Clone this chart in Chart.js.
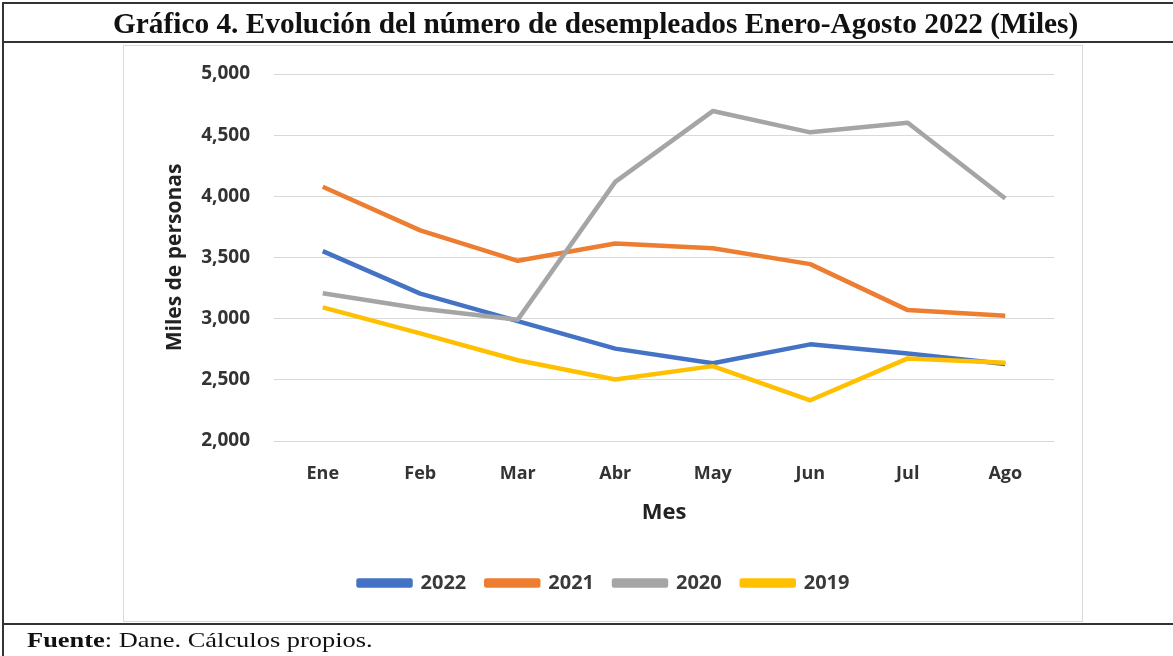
<!DOCTYPE html>
<html>
<head>
<meta charset="utf-8">
<script src="https://cdn.jsdelivr.net/npm/chart.js@4"></script>
<style>
  html, body { margin: 0; padding: 0; background: #fff; }
  body { width: 1173px; height: 656px; position: relative; overflow: hidden; }
  #chart { position: absolute; left: 0; top: 0; }
  .rule { position: absolute; background: #333; }
  #frame { position: absolute; left: 123px; top: 45px; width: 958px; height: 575px; border: 1px solid #d9d9d9; }
  .txt { position: absolute; white-space: nowrap; font-family: "Liberation Serif", "Times New Roman", serif; color: #111; transform-origin: 0 0; }
  #title { top: 9px; font-size: 29px; line-height: 29px; font-weight: bold; }
  #source { top: 630px; left: 27px; font-size: 21px; line-height: 21px; }
</style>
</head>
<body>
<div class="rule" style="left:2px; top:2px; width:1171px; height:2px;"></div>
<div class="rule" style="left:2px; top:41px; width:1171px; height:2px;"></div>
<div class="rule" style="left:2px; top:623px; width:1171px; height:2px;"></div>
<div class="rule" style="left:2px; top:2px; width:2px; height:654px;"></div>
<div id="frame"></div>
<canvas id="chart" width="1173" height="656"></canvas>
<div id="title" class="txt">Gráfico 4. Evolución del número de desempleados Enero-Agosto 2022 (Miles)</div>
<div id="source" class="txt"><b>Fuente</b>: Dane. Cálculos propios.</div>
<script>
// Meses (eje X)
const months = ["Ene", "Feb", "Mar", "Abr", "May", "Jun", "Jul", "Ago"];

// Desempleados, miles de personas
const values2022 = [3552, 3205, 2980, 2755, 2635, 2790, 2715, 2630];
const values2021 = [4078, 3722, 3473, 3615, 3575, 3446, 3070, 3023];
const values2020 = [3207, 3083, 2992, 4118, 4697, 4523, 4602, 3983];
const values2019 = [3092, 2880, 2660, 2503, 2612, 2333, 2675, 2640];

const seriesNames = ["2022", "2021", "2020", "2019"];
const seriesColors = ["#4472C4", "#ED7D31", "#A5A5A5", "#FFC000"];

// Eje Y
const yMin = 2000;
const yMax = 5000;
const yStep = 500;

// fit the HTML text to the widths seen in the picture
function fitText(id, targetWidth, centerX) {
  const el = document.getElementById(id);
  const w = el.offsetWidth;
  const s = targetWidth / w;
  el.style.transform = "scaleX(" + s + ")";
  if (centerX !== undefined) el.style.left = (centerX - targetWidth / 2) + "px";
}
fitText("title", 965, 595);
fitText("source", 346);

const allValues = [values2022, values2021, values2020, values2019];

const datasets = allValues.map((vals, i) => ({
  label: seriesNames[i],
  data: vals,
  borderColor: seriesColors[i],
  backgroundColor: seriesColors[i],
  borderWidth: 4.5,
  pointRadius: 0,
  tension: 0,
  borderJoinStyle: "round",
  order: 4 - i, // later series drawn on top, like the original
}));

const tickFont = { family: "'Open Sans', sans-serif", size: 18, weight: "bold" };

const ctx = document.getElementById("chart").getContext("2d");
new Chart(ctx, {
  type: "line",
  data: { labels: months, datasets: datasets },
  options: {
    responsive: false,
    animation: false,
    devicePixelRatio: 1,
    layout: { padding: { left: 154, right: 119, top: 74, bottom: 53 } },
    plugins: {
      tooltip: { enabled: false },
      legend: {
        position: "bottom",
        labels: {
          boxWidth: 52,
          boxHeight: 5,
          padding: 20,
          color: "#3a3a3a",
          font: { family: "'Open Sans', sans-serif", size: 20, weight: "bold" },
          sort: (a, b) => a.datasetIndex - b.datasetIndex,
        },
      },
    },
    scales: {
      x: {
        offset: true,
        grid: { display: false },
        border: { display: false },
        ticks: { color: "#333", font: tickFont, padding: 14 },
        title: {
          display: true,
          text: "Mes",
          color: "#222",
          font: { family: "'Open Sans', sans-serif", size: 22, weight: "bold" },
          padding: { top: 0, bottom: 27 },
        },
        afterFit: (scale) => { scale.height = 112; },
      },
      y: {
        min: yMin,
        max: yMax,
        grid: { color: "#d9d9d9", lineWidth: 1, drawTicks: false },
        border: { display: false },
        ticks: {
          stepSize: yStep,
          color: "#333",
          font: { family: "'Open Sans', sans-serif", size: 19, weight: "bold" },
          padding: 24,
          callback: (v) => v.toLocaleString("en-US"),
        },
        title: {
          display: true,
          text: "Miles de personas",
          color: "#222",
          font: { family: "'Open Sans', sans-serif", size: 21, weight: "bold" },
          padding: { top: 8, bottom: 0 },
        },
        afterFit: (scale) => { scale.width = 120; },
      },
    },
  },
});
</script>
</body>
</html>
